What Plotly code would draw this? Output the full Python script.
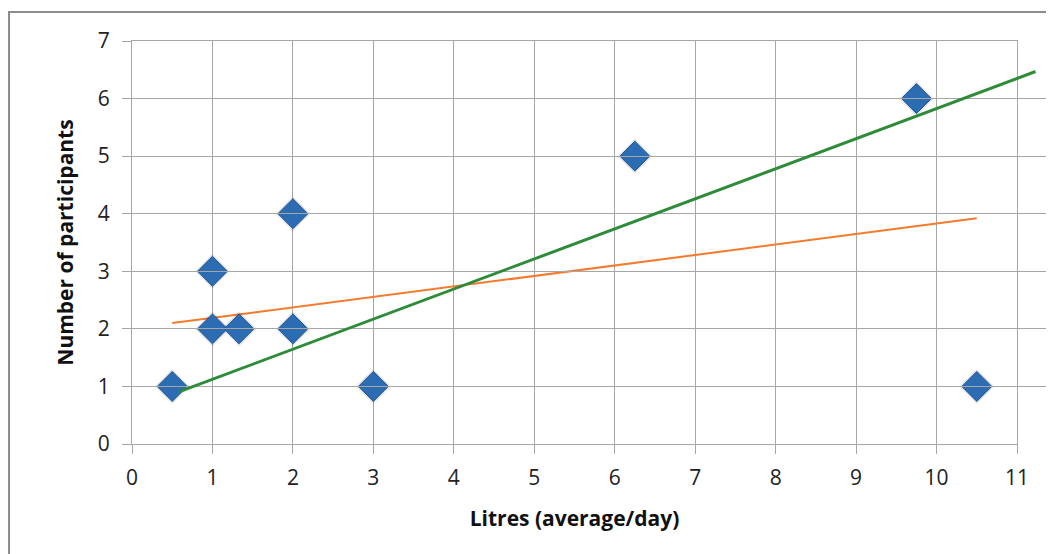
import plotly.graph_objects as go

# Data
litres = [0.5, 1, 1, 1.33, 2, 2, 3, 6.25, 9.75, 10.5]
participants = [1, 2, 3, 2, 2, 4, 1, 5, 6, 1]

orange_x = [0.5, 10.5]
orange_y = [2.1, 3.92]

green_x = [0.59, 11.23]
green_y = [0.91, 6.47]

x_ticks = list(range(0, 12))
y_ticks = list(range(0, 8))

W, H = 1054, 554
L, R, T, B = 124, 10, 33, 118
plot_w = W - L - R
plot_h = H - T - B
main_end = (1009 - L) / plot_w
x_max = 11
x2_max = x_max / main_end

GRID = "#A6A6A6"
FONT = "Open Sans, Lato, sans-serif"

fig = go.Figure()

fig.add_trace(go.Scatter(
    x=orange_x, y=orange_y, mode="lines",
    line=dict(color="#F47A2E", width=2),
    hoverinfo="skip", showlegend=False,
))

fig.add_trace(go.Scatter(
    x=green_x, y=green_y, mode="lines",
    line=dict(color="#2E8B3A", width=3),
    xaxis="x2", yaxis="y",
    hoverinfo="skip", showlegend=False,
))

# soft shadow under markers
fig.add_trace(go.Scatter(
    x=litres, y=participants, mode="markers",
    marker=dict(symbol="diamond", size=27, color="rgba(0,0,0,0.10)", line=dict(width=0)),
    hoverinfo="skip", showlegend=False, cliponaxis=False,
))

fig.add_trace(go.Scatter(
    x=litres, y=participants, mode="markers",
    marker=dict(symbol="diamond", size=23, color="#2B6CB3",
                line=dict(color="#1F5596", width=1)),
    showlegend=False, cliponaxis=False,
))

axis_common = dict(
    showgrid=True, gridcolor=GRID, gridwidth=1.2,
    showline=True, linecolor=GRID, linewidth=1.2, mirror=True,
    ticks="outside", ticklen=9, tickcolor=GRID, tickwidth=1.2,
    zeroline=False, automargin=False,
    tickfont=dict(family=FONT, size=21, color="#222222"),
)

fig.update_layout(
    width=W, height=H,
    margin=dict(l=L, r=R, t=T, b=B, autoexpand=False),
    paper_bgcolor="white", plot_bgcolor="rgba(0,0,0,0)",
    xaxis=dict(
        range=[0, x_max], domain=[0, main_end],
        tickvals=x_ticks, ticktext=[str(v) for v in x_ticks],
        ticklabelstandoff=6,
        title=dict(text="<b>Litres (average/day)</b>", standoff=21,
                   font=dict(family=FONT, size=21, color="#111111")),
        **axis_common,
    ),
    yaxis=dict(
        range=[0, 7],
        tickvals=y_ticks, ticktext=[str(v) for v in y_ticks],
        ticklabelstandoff=8,
        title=dict(text="<b>Number of participants</b>", standoff=18,
                   font=dict(family=FONT, size=21, color="#111111")),
        **axis_common,
    ),
    xaxis2=dict(
        range=[0, x2_max], domain=[0, 1], anchor="y",
        visible=False, showgrid=False, zeroline=False,
    ),
    shapes=[dict(
        type="rect", xref="paper", yref="paper",
        x0=(1 - L) / plot_w, x1=(W + 10 - L) / plot_w,
        y0=-(H + 10 - (H - B)) / plot_h, y1=((H - B) - 4) / plot_h,
        line=dict(color="#8C8C8C", width=2), fillcolor="rgba(0,0,0,0)",
        layer="below",
    )],
)

fig.write_html("out.html")
